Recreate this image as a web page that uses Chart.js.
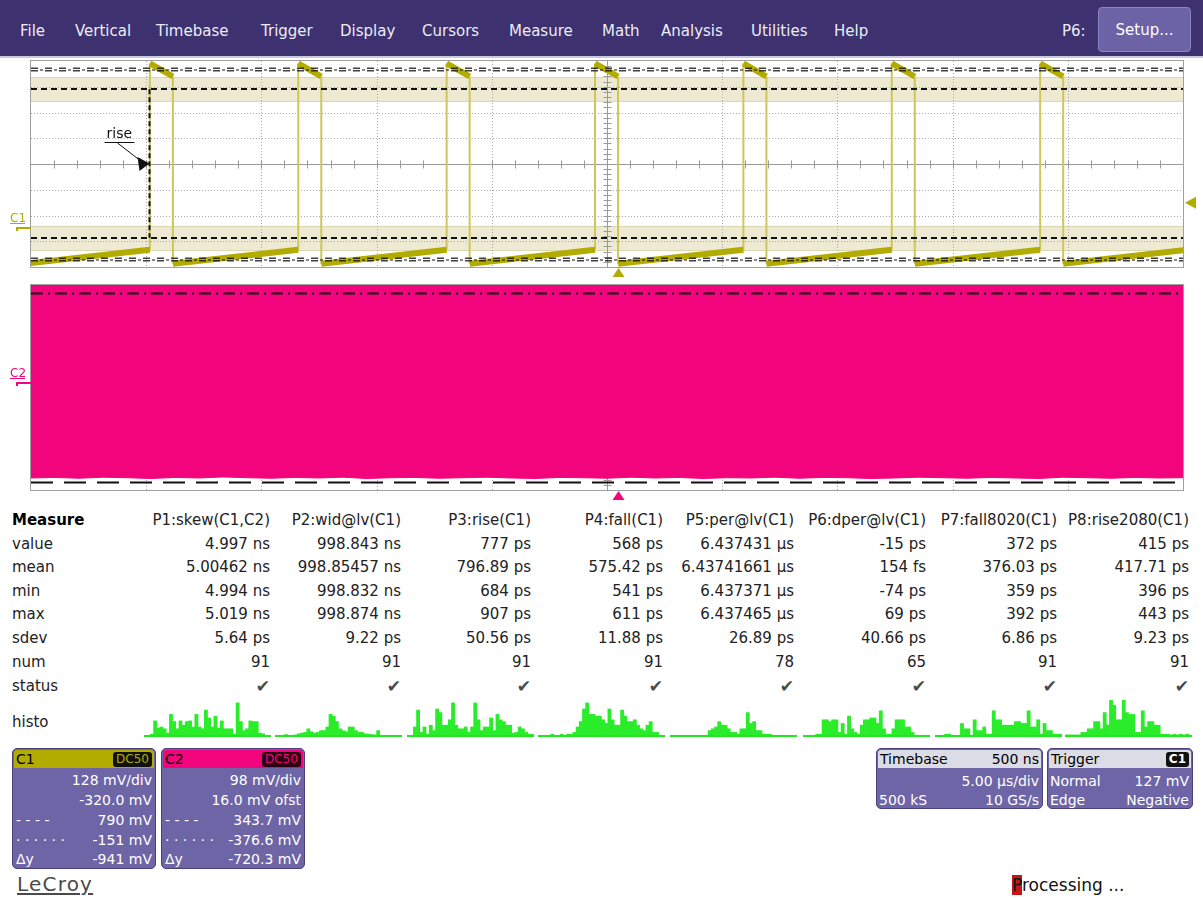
<!DOCTYPE html>
<html>
<head>
<meta charset="utf-8">
<script src="https://cdn.jsdelivr.net/npm/chart.js@4.4.1/dist/chart.umd.min.js"></script>
<style>
  body { margin: 0; width: 1203px; height: 899px; background: #fff; position: relative; overflow: hidden;
         font-family: "DejaVu Sans", sans-serif; }
  canvas { position: absolute; }
  #menu { position: absolute; left: 0; top: 0; width: 1203px; height: 56px; background: #3d3170;
          border-bottom: 2px solid #cac7e2; }
  .mi { position: absolute; top: 22px; color: #ececf4; font-size: 15px; white-space: nowrap; }
  #setup { position: absolute; left: 1098px; top: 7px; width: 91px; height: 43px; background: #6c62a6;
           border: 1px solid #8d85c0; border-radius: 4px; color: #fff; font-size: 15px; line-height: 45px;
           text-align: center; }
  .cell { position: absolute; font-size: 15px; color: #222; transform: translateY(-50%); white-space: nowrap; }
  .box { position: absolute; top: 748px; background: #6e65a6; border: 1px solid #4b4180; border-radius: 5px;
         color: #fff; font-size: 14px; overflow: hidden; box-sizing: border-box; }
  .hdr { position: absolute; left: 1px; right: 1px; top: 1px; height: 18px; border-radius: 3px 3px 0 0; color: #000; }
  .t { position: absolute; white-space: nowrap; transform: translateY(-50%); }
  .badge { position: absolute; top: 2px; height: 15px; line-height: 15px; border-radius: 3px; background: #111;
           font-size: 12px; padding: 0 3px; }
</style>
</head>
<body>
<div id="menu"></div>
<canvas id="c1" width="1203" height="222" style="left:0;top:58px"></canvas>
<canvas id="c2" width="1203" height="225" style="left:0;top:280px"></canvas>
<div id="table"></div>
<div id="boxes"></div>

<script>
// ---- data ----
const menuItems = ["File", "Vertical", "Timebase", "Trigger", "Display", "Cursors", "Measure", "Math", "Analysis", "Utilities", "Help"];

// C1: 5 us/div, 128 mV/div, -320 mV offset
const riseTimes = [-19.84, -13.40, -6.96, -0.52, 5.92, 12.36, 18.80]; // us
const pulseWidth = 0.999; // us
const period = 6.437; // us
const highLevels = [820, 755]; // mV at rise, at fall
const lowLevels = [-176, -106]; // mV after fall, before rise
const c1Cursors = [790, -151]; // mV
const c1MeasLevels = [692, -47]; // mV
const triggerLevel = 127; // mV
const triggerTime = 0.5; // us

// C2: 98 mV/div, 16 mV offset
const c2Low = [-362, -360, -363, -359, -361, -364, -360, -362, -358, -361, -363, -360, -362, -359, -364, -361,
               -360, -363, -361, -359, -362, -364, -360, -361, -363, -359, -362, -360, -364, -361, -362, -359,
               -363, -360, -361, -364, -362, -359, -361, -363, -360, -362, -364, -359, -361, -363, -360, -362, -361];
const c2Cursors = [343.7, -376.6]; // mV

const measureHeaders = ["P1:skew(C1,C2)", "P2:wid@lv(C1)", "P3:rise(C1)", "P4:fall(C1)", "P5:per@lv(C1)", "P6:dper@lv(C1)", "P7:fall8020(C1)", "P8:rise2080(C1)"];
const rowLabels = ["value", "mean", "min", "max", "sdev", "num", "status"];
const valueRow = ["4.997 ns", "998.843 ns", "777 ps", "568 ps", "6.437431 µs", "-15 ps", "372 ps", "415 ps"];
const meanRow = ["5.00462 ns", "998.85457 ns", "796.89 ps", "575.42 ps", "6.43741661 µs", "154 fs", "376.03 ps", "417.71 ps"];
const minRow = ["4.994 ns", "998.832 ns", "684 ps", "541 ps", "6.437371 µs", "-74 ps", "359 ps", "396 ps"];
const maxRow = ["5.019 ns", "998.874 ns", "907 ps", "611 ps", "6.437465 µs", "69 ps", "392 ps", "443 ps"];
const sdevRow = ["5.64 ps", "9.22 ps", "50.56 ps", "11.88 ps", "26.89 ps", "40.66 ps", "6.86 ps", "9.23 ps"];
const numRow = ["91", "91", "91", "91", "78", "65", "91", "91"];

// histogram bin counts (relative)
const histo1 = [0, 0, 5, 42, 22, 25, 20, 8, 60, 40, 20, 42, 30, 40, 42, 25, 60, 25, 20, 72, 50, 25, 55, 22, 42, 20, 20, 20, 5, 92, 40, 15, 20, 42, 40, 40, 8, 6, 0, 0];
const histo2 = [0, 1, 1, 4, 2, 2, 3, 6, 8, 10, 20, 12, 8, 10, 15, 15, 25, 60, 55, 40, 20, 15, 12, 25, 25, 15, 10, 10, 6, 5, 4, 3, 15, 0, 0, 0, 0, 0, 0, 0];
const histo3 = [0, 0, 25, 72, 10, 25, 5, 30, 15, 75, 65, 30, 30, 45, 92, 30, 20, 20, 25, 10, 25, 92, 45, 15, 25, 25, 50, 15, 60, 45, 40, 30, 30, 8, 10, 25, 20, 10, 5, 5];
const histo4 = [0, 0, 0, 0, 5, 0, 0, 5, 0, 5, 5, 10, 25, 40, 75, 92, 60, 60, 55, 55, 45, 35, 75, 45, 30, 30, 72, 55, 40, 40, 45, 30, 20, 15, 30, 40, 10, 10, 0, 0];
const histo5 = [0, 0, 0, 0, 0, 0, 0, 0, 0, 0, 0, 2, 15, 20, 25, 40, 30, 30, 20, 10, 10, 5, 20, 20, 65, 35, 40, 15, 15, 5, 5, 5, 2, 0, 0, 0, 0, 0, 0, 0];
const histo6 = [0, 0, 0, 0, 5, 5, 45, 45, 40, 45, 45, 10, 35, 5, 55, 20, 10, 5, 30, 45, 45, 50, 50, 35, 70, 20, 5, 5, 20, 45, 45, 45, 25, 25, 10, 0, 0, 0, 0, 0];
const histo7 = [0, 0, 0, 5, 5, 0, 0, 0, 35, 20, 20, 0, 45, 15, 15, 25, 5, 5, 70, 45, 45, 30, 30, 30, 30, 40, 40, 35, 35, 70, 25, 25, 45, 5, 35, 15, 15, 5, 5, 5];
const histo8 = [3, 3, 3, 3, 3, 10, 10, 20, 20, 40, 40, 20, 65, 30, 100, 85, 45, 45, 100, 65, 60, 60, 10, 10, 70, 25, 40, 40, 30, 30, 5, 5, 5, 3, 5, 3, 5, 3, 5, 0];

// ---- layout ----
const menuX = [20, 75, 156, 261, 340, 422, 509, 602, 661, 751, 834];
const colRight = [270, 401, 531, 663, 794, 926, 1057, 1189];
const rowY = [520, 544, 567, 591, 614, 638, 662, 686];
const histoX = [144, 275, 407, 538, 670, 803, 935, 1065];
const histoW = 127;

const menu = document.getElementById("menu");
menuItems.forEach((m, i) => {
  const d = document.createElement("div");
  d.className = "mi";
  d.style.left = menuX[i] + "px";
  d.textContent = m;
  menu.appendChild(d);
});
menu.insertAdjacentHTML("beforeend", '<div class="mi" style="left:1062px">P6:</div><div id="setup">Setup...</div>');

// measure table
const table = document.getElementById("table");
function cell(text, x, y, right, extra) {
  const d = document.createElement("div");
  d.className = "cell";
  d.style.top = y + "px";
  if (right) d.style.right = (1203 - x) + "px";
  else d.style.left = x + "px";
  if (extra) d.style.cssText += extra;
  d.textContent = text;
  table.appendChild(d);
}
cell("Measure", 12, rowY[0], false, "font-weight:bold;color:#000");
rowLabels.forEach((r, i) => cell(r, 12, rowY[i + 1], false));
cell("histo", 12, 722, false);
const rows = [valueRow, meanRow, minRow, maxRow, sdevRow, numRow];
measureHeaders.forEach((h, c) => {
  cell(h, colRight[c], rowY[0], true);
  rows.forEach((r, i) => cell(r[c], colRight[c], rowY[i + 1], true));
  cell("✔", colRight[c], rowY[7], true, "color:#4a4a4a;font-size:17px");
});

// info boxes
document.getElementById("boxes").innerHTML = `
<div class="box" style="left:12px;width:144px;height:121px">
  <div class="hdr" style="background:#b3ac00"><span class="t" style="left:2px;top:9px">C1</span>
    <span class="badge" style="right:2px;color:#b3ac00">DC50</span></div>
  <span class="t" style="right:3px;top:31px">128 mV/div</span>
  <span class="t" style="right:3px;top:51px">-320.0 mV</span>
  <span class="t" style="left:3px;top:71px">- - - -</span><span class="t" style="right:3px;top:71px">790 mV</span>
  <span class="t" style="left:3px;top:91px">· · · · · ·</span><span class="t" style="right:3px;top:91px">-151 mV</span>
  <span class="t" style="left:3px;top:110px">Δy</span><span class="t" style="right:3px;top:110px">-941 mV</span>
</div>
<div class="box" style="left:161px;width:144px;height:121px">
  <div class="hdr" style="background:#f2047c"><span class="t" style="left:2px;top:9px">C2</span>
    <span class="badge" style="right:2px;color:#f2047c;background:#2a0012">DC50</span></div>
  <span class="t" style="right:3px;top:31px">98 mV/div</span>
  <span class="t" style="right:3px;top:51px">16.0 mV ofst</span>
  <span class="t" style="left:3px;top:71px">- - - -</span><span class="t" style="right:3px;top:71px">343.7 mV</span>
  <span class="t" style="left:3px;top:91px">· · · · · ·</span><span class="t" style="right:3px;top:91px">-376.6 mV</span>
  <span class="t" style="left:3px;top:110px">Δy</span><span class="t" style="right:3px;top:110px">-720.3 mV</span>
</div>
<div class="box" style="left:876px;width:167px;height:61px">
  <div class="hdr" style="background:#dcdce6"><span class="t" style="left:2px;top:9px">Timebase</span>
    <span class="t" style="right:2px;top:9px">500 ns</span></div>
  <span class="t" style="right:3px;top:32px">5.00 µs/div</span>
  <span class="t" style="left:2px;top:51px">500 kS</span><span class="t" style="right:3px;top:51px">10 GS/s</span>
</div>
<div class="box" style="left:1047px;width:146px;height:61px">
  <div class="hdr" style="background:#dcdce6"><span class="t" style="left:2px;top:9px">Trigger</span>
    <span class="badge" style="right:2px;color:#fff;font-weight:bold">C1</span></div>
  <span class="t" style="left:2px;top:32px">Normal</span><span class="t" style="right:3px;top:32px">127 mV</span>
  <span class="t" style="left:2px;top:51px">Edge</span><span class="t" style="right:3px;top:51px">Negative</span>
</div>
<div style="position:absolute;left:17px;top:872px;font-size:20px;letter-spacing:1.2px;color:#4a4a4a;text-decoration:underline;text-decoration-thickness:2px;text-underline-offset:2px">LeCroy</div>
<div style="position:absolute;left:1012px;top:875px;font-size:17px;color:#111;white-space:nowrap"><span style="background:#c81414">P</span>rocessing ...</div>
`;

// ---- scope drawing plugin ----
function hline(ctx, x1, x2, y) { ctx.beginPath(); ctx.moveTo(x1, y); ctx.lineTo(x2, y); ctx.stroke(); }
function vline(ctx, x, y1, y2) { ctx.beginPath(); ctx.moveTo(x, y1); ctx.lineTo(x, y2); ctx.stroke(); }

function drawCursor(ctx, a, y, style) {
  ctx.strokeStyle = "#111";
  if (style === "double") {
    ctx.lineWidth = 1.2;
    ctx.setLineDash([7, 7]);
    hline(ctx, a.left, a.right, y - 1.3);
    hline(ctx, a.left, a.right, y + 1.3);
    ctx.lineDashOffset = -9;
    ctx.setLineDash([3, 11]);
    hline(ctx, a.left, a.right, y + 0.5);
    ctx.lineDashOffset = 0;
  } else if (style === "dash") {
    ctx.lineWidth = 2;
    ctx.setLineDash([6, 4]);
    hline(ctx, a.left, a.right, y);
  } else if (style === "dashdot") {
    ctx.lineWidth = 2;
    ctx.setLineDash([12, 5, 2, 5]);
    hline(ctx, a.left, a.right, y);
  } else {
    ctx.lineWidth = 2;
    ctx.setLineDash([22, 11]);
    hline(ctx, a.left, a.right, y);
  }
  ctx.setLineDash([]);
}

const scopePlugin = {
  id: "scope",
  beforeDatasetsDraw(chart, args, o) {
    const { ctx, chartArea: a } = chart;
    const xs = chart.scales.x, ys = chart.scales.y;
    ctx.save();
    (o.levels || []).forEach((lv) => {
      const y1 = ys.getPixelForValue(lv + o.band), y2 = ys.getPixelForValue(lv - o.band);
      ctx.fillStyle = "#ede9d3";
      ctx.fillRect(a.left, y1, a.right - a.left, y2 - y1);
      ctx.strokeStyle = "#dcd7b2";
      ctx.lineWidth = 1;
      hline(ctx, a.left, a.right, Math.round(y1) + 0.5);
      hline(ctx, a.left, a.right, Math.round(y2) + 0.5);
    });
    const nx = Math.round((xs.max - xs.min) / o.xDiv), ny = Math.round((ys.max - ys.min) / o.yDiv);
    ctx.lineWidth = 1;
    ctx.strokeStyle = "#a9a9a9";
    ctx.setLineDash([1, 2]);
    for (let i = 1; i < nx; i++) {
      if (i * 2 === nx) continue;
      const x = Math.round(xs.getPixelForValue(xs.min + i * o.xDiv)) + 0.5;
      vline(ctx, x, a.top, a.bottom);
    }
    for (let j = 1; j < ny; j++) {
      if (j * 2 === ny) continue;
      const y = Math.round(ys.getPixelForValue(ys.min + j * o.yDiv)) + 0.5;
      hline(ctx, a.left, a.right, y);
    }
    ctx.setLineDash([]);
    ctx.strokeStyle = "#9a9a9a";
    const cx = Math.round(xs.getPixelForValue((xs.min + xs.max) / 2)) + 0.5;
    const cy = Math.round(ys.getPixelForValue((ys.min + ys.max) / 2)) + 0.5;
    hline(ctx, a.left, a.right, cy);
    vline(ctx, cx, a.top, a.bottom);
    for (let i = 1; i < nx * 5; i++) {
      const x = Math.round(xs.getPixelForValue(xs.min + i * o.xDiv / 5)) + 0.5;
      vline(ctx, x, cy - 4, cy + 4);
    }
    for (let j = 1; j < ny * 5; j++) {
      const y = Math.round(ys.getPixelForValue(ys.min + j * o.yDiv / 5)) + 0.5;
      hline(ctx, cx - 4, cx + 4, y);
    }
    if (!o.frameOnTop) {
      ctx.strokeStyle = "#a0a0a0";
      ctx.strokeRect(a.left - 0.5, a.top - 0.5, a.right - a.left + 1, a.bottom - a.top + 1);
    }
    ctx.restore();
  },
  afterDatasetsDraw(chart, args, o) {
    const { ctx, chartArea: a } = chart;
    const xs = chart.scales.x, ys = chart.scales.y;
    ctx.save();
    (o.levels || []).forEach((lv) => drawCursor(ctx, a, Math.round(ys.getPixelForValue(lv)), "dash"));
    o.cursors.forEach((c, i) => drawCursor(ctx, a, Math.round(ys.getPixelForValue(c)) + 0.5, o.cursorStyles[i]));
    if (o.rise !== undefined) {
      const mx = Math.round(xs.getPixelForValue(o.rise)) - 0.5;
      const cy = ys.getPixelForValue((ys.min + ys.max) / 2);
      ctx.strokeStyle = "#111";
      ctx.lineWidth = 2;
      ctx.setLineDash([5, 3]);
      vline(ctx, mx, ys.getPixelForValue(o.levels[0]), ys.getPixelForValue(o.levels[1]));
      ctx.setLineDash([]);
      ctx.lineWidth = 1;
      ctx.fillStyle = "#111";
      ctx.font = "14px 'DejaVu Sans'";
      ctx.textAlign = "left";
      ctx.textBaseline = "alphabetic";
      ctx.fillText("rise", mx - 43, cy - 26);
      hline(ctx, mx - 45, mx - 15, cy - 21.5);
      ctx.beginPath();
      ctx.moveTo(mx - 32, cy - 21);
      ctx.lineTo(mx - 10, cy - 4);
      ctx.stroke();
      ctx.beginPath();
      ctx.moveTo(mx - 12, cy - 7);
      ctx.lineTo(mx, cy - 0.5);
      ctx.lineTo(mx - 10, cy + 7);
      ctx.closePath();
      ctx.fill();
    }
    if (o.frameOnTop !== false) {
      ctx.strokeStyle = "#a0a0a0";
      ctx.lineWidth = 1;
      ctx.strokeRect(a.left - 0.5, a.top - 0.5, a.right - a.left + 1, a.bottom - a.top + 1);
    }
    // channel label and ground marker
    const gy = Math.round(ys.getPixelForValue(0));
    ctx.fillStyle = o.color;
    ctx.strokeStyle = o.color;
    ctx.font = "12px 'DejaVu Sans'";
    ctx.textAlign = "left";
    ctx.fillText(o.label, 10, gy - 6);
    ctx.lineWidth = 1;
    hline(ctx, 10, 25, gy - 4.5);
    ctx.fillRect(16, gy - 1, a.left - 16, 2);
    ctx.fillRect(16, gy - 1, 2, 4);
    // trigger position marker
    const tx = xs.getPixelForValue(o.trigTime);
    ctx.beginPath();
    ctx.moveTo(tx, a.bottom + 1);
    ctx.lineTo(tx + 6, a.bottom + 10);
    ctx.lineTo(tx - 6, a.bottom + 10);
    ctx.closePath();
    ctx.fill();
    if (o.trigLevel !== undefined) {
      const ty = ys.getPixelForValue(o.trigLevel);
      ctx.beginPath();
      ctx.moveTo(a.right + 2, ty);
      ctx.lineTo(a.right + 13, ty - 6);
      ctx.lineTo(a.right + 13, ty + 6);
      ctx.closePath();
      ctx.fill();
    }
    ctx.restore();
  }
};

// ---- C1 trace ----
const c1Flat = [];
const c1Edges = [];
riseTimes.forEach((r) => {
  const fall = r + pulseWidth;
  c1Flat.push({ x: r - period + pulseWidth, y: lowLevels[0] }, { x: r, y: lowLevels[1] }, { x: r, y: null });
  c1Flat.push({ x: r, y: highLevels[0] }, { x: fall, y: highLevels[1] }, { x: fall, y: null });
  c1Edges.push({ x: r, y: lowLevels[1] }, { x: r, y: highLevels[0] }, { x: r, y: null });
  c1Edges.push({ x: fall, y: highLevels[1] }, { x: fall, y: lowLevels[0] }, { x: fall, y: null });
});
const lastFall = riseTimes[riseTimes.length - 1] + pulseWidth;
c1Flat.push({ x: lastFall, y: lowLevels[0] }, { x: lastFall + period - pulseWidth, y: lowLevels[1] });

const baseOpts = {
  responsive: false,
  animation: false,
  events: [],
  plugins: { legend: { display: false }, tooltip: { enabled: false } }
};

new Chart(document.getElementById("c1"), {
  type: "line",
  data: {
    datasets: [
      { data: c1Flat, borderColor: "#b2ab00", borderWidth: 6, pointRadius: 0, tension: 0 },
      { data: c1Edges, borderColor: "#cdc75a", borderWidth: 2, pointRadius: 0, tension: 0 }
    ]
  },
  options: {
    ...baseOpts,
    layout: { padding: { left: 31, right: 20, top: 3, bottom: 13 } },
    scales: {
      x: { type: "linear", min: -25, max: 25, display: false },
      y: { min: -192, max: 832, display: false }
    },
    plugins: {
      ...baseOpts.plugins,
      scope: {
        xDiv: 5, yDiv: 128, levels: c1MeasLevels, band: 60,
        cursors: c1Cursors, cursorStyles: ["double", "double"],
        rise: riseTimes[0], label: "C1", color: "#b2ab00",
        trigTime: triggerTime, trigLevel: triggerLevel
      }
    }
  },
  plugins: [scopePlugin]
});

// ---- C2 trace ----
const c2Points = c2Low.map((v, i) => ({ x: -25 + i * 50 / (c2Low.length - 1), y: v }));
new Chart(document.getElementById("c2"), {
  type: "line",
  data: {
    datasets: [
      { data: c2Points, borderColor: "#f2047c", borderWidth: 1, backgroundColor: "#f2047c", fill: "end", pointRadius: 0, tension: 0 }
    ]
  },
  options: {
    ...baseOpts,
    layout: { padding: { left: 31, right: 20, top: 5, bottom: 15 } },
    scales: {
      x: { type: "linear", min: -25, max: 25, display: false },
      y: { min: -408, max: 376, display: false }
    },
    plugins: {
      ...baseOpts.plugins,
      scope: {
        xDiv: 5, yDiv: 98, frameOnTop: false,
        cursors: c2Cursors, cursorStyles: ["dashdot", "longdash"],
        label: "C2", color: "#f2047c", trigTime: triggerTime
      }
    }
  },
  plugins: [scopePlugin]
});

// ---- histograms ----
const histoBase = {
  id: "histoBase",
  afterDatasetsDraw(chart) {
    const { ctx, chartArea: a } = chart;
    ctx.save();
    ctx.fillStyle = "#22e622";
    ctx.fillRect(a.left, a.bottom - 1, a.right - a.left, 2);
    ctx.restore();
  }
};
[histo1, histo2, histo3, histo4, histo5, histo6, histo7, histo8].forEach((bins, k) => {
  const cv = document.createElement("canvas");
  cv.width = histoW;
  cv.height = 40;
  cv.style.left = histoX[k] + "px";
  cv.style.top = "698px";
  document.body.appendChild(cv);
  new Chart(cv, {
    type: "bar",
    data: {
      labels: bins.map((_, i) => i),
      datasets: [{ data: bins, backgroundColor: "#2aec2a", borderWidth: 0, barPercentage: 1, categoryPercentage: 1 }]
    },
    options: {
      ...baseOpts,
      layout: { padding: { top: 2, bottom: 2 } },
      scales: { x: { display: false }, y: { display: false, min: 0, max: 100 } }
    },
    plugins: [histoBase]
  });
});
</script>
</body>
</html>
